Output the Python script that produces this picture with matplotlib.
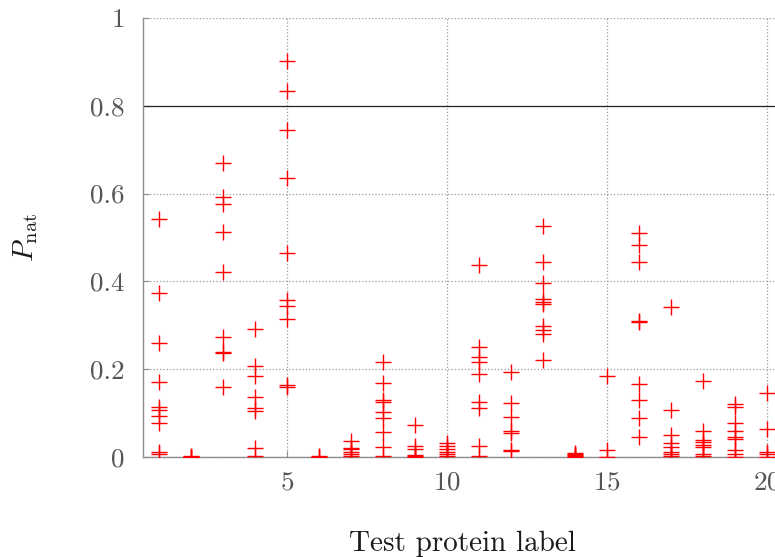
import matplotlib
matplotlib.use("Agg")
import matplotlib.pyplot as plt

plt.rcParams['font.family'] = 'cmr10'
plt.rcParams['mathtext.fontset'] = 'cm'
plt.rcParams['axes.formatter.use_mathtext'] = True

# P_nat values of the designed sequences, one list per test protein
p_nat = {
    1: [0.542, 0.374, 0.259, 0.172, 0.115, 0.107, 0.094, 0.077, 0.012, 0.008],
    2: [0.002, 0.001, 0.0, 0.0],
    3: [0.669, 0.593, 0.576, 0.513, 0.422, 0.273, 0.240, 0.236, 0.160],
    4: [0.291, 0.207, 0.185, 0.136, 0.111, 0.105, 0.020, 0.002],
    5: [0.902, 0.834, 0.745, 0.636, 0.464, 0.358, 0.345, 0.314, 0.164, 0.160],
    6: [0.002, 0.001, 0.0],
    7: [0.036, 0.021, 0.018, 0.012, 0.008, 0.002],
    8: [0.216, 0.169, 0.130, 0.125, 0.102, 0.088, 0.058, 0.023, 0.002],
    9: [0.072, 0.025, 0.019, 0.005, 0.003, 0.001],
    10: [0.033, 0.025, 0.019, 0.012, 0.007, 0.002],
    11: [0.437, 0.251, 0.227, 0.216, 0.188, 0.125, 0.111, 0.026, 0.002],
    12: [0.194, 0.122, 0.092, 0.059, 0.054, 0.017, 0.014],
    13: [0.527, 0.445, 0.397, 0.361, 0.354, 0.348, 0.299, 0.289, 0.280, 0.221],
    14: [0.010, 0.008, 0.005, 0.003, 0.001],
    15: [0.185, 0.016, 0.001],
    16: [0.511, 0.483, 0.445, 0.310, 0.308, 0.166, 0.131, 0.088, 0.045],
    17: [0.342, 0.108, 0.050, 0.031, 0.023, 0.011, 0.007, 0.002],
    18: [0.174, 0.059, 0.039, 0.035, 0.027, 0.022, 0.008, 0.002],
    19: [0.121, 0.115, 0.078, 0.059, 0.045, 0.041, 0.016, 0.008, 0.001],
    20: [0.146, 0.063, 0.011, 0.006, 0.001],
}
threshold = 0.8
x_ticks = [5, 10, 15, 20]
y_ticks = [0, 0.2, 0.4, 0.6, 0.8, 1]
y_tick_labels = ['0', '0.2', '0.4', '0.6', '0.8', '1']

fig = plt.figure(figsize=(7.75, 5.57), dpi=100)
ax = fig.add_axes([0.1845, 0.1795, 0.8258, 0.7882])

xs, ys = [], []
for label, vals in p_nat.items():
    xs += [label] * len(vals)
    ys += vals
ax.plot(xs, ys, linestyle='none', marker='+', markersize=11,
        markeredgewidth=1.0, color='#ff0000', zorder=3)

ax.axhline(threshold, color='#262626', linewidth=0.9, zorder=2)

ax.set_xlim(0.5, 20.5)
ax.set_ylim(0, 1)
ax.set_xticks(x_ticks)
ax.set_yticks(y_ticks)
ax.set_yticklabels(y_tick_labels)
ax.grid(True, linestyle=':', color='#9a9a9a', linewidth=0.9)
ax.set_axisbelow(True)

for side in ['top', 'right']:
    ax.spines[side].set_visible(False)
for side in ['left', 'bottom']:
    ax.spines[side].set_color('#8c8c8c')
    ax.spines[side].set_linewidth(1.0)

ax.tick_params(direction='in', length=4, color='#8c8c8c',
               labelsize=19.5, labelcolor='#555555')
ax.tick_params(axis='y', pad=13)
ax.tick_params(axis='x', pad=10)

ax.set_xlabel('Test protein label', fontsize=21, color='#1a1a1a', labelpad=26)
ax.set_ylabel(r'$P_{\rm nat}$', fontsize=21, color='#1a1a1a', labelpad=36)

fig.savefig('out.png', dpi=100)
